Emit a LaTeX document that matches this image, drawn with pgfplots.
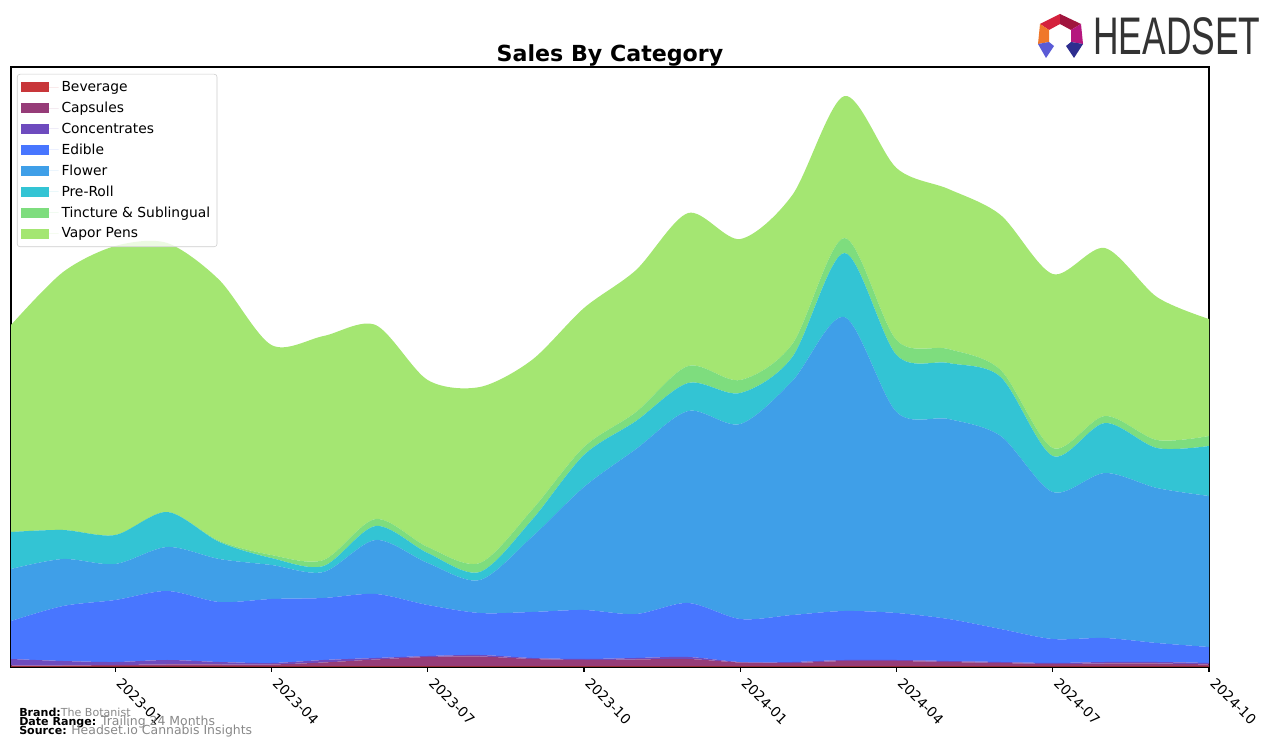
\documentclass[border=0pt]{standalone}
\usepackage{pgfplots}
\pgfplotsset{compat=1.18}
\usepackage{pgfplotstable}
\usepackage{fontspec}
\usepackage{graphicx}
\setmainfont{DejaVu Sans}
\newfontfamily\logofont{Liberation Sans}

\definecolor{cBev}{RGB}{200,54,58}
\definecolor{cCap}{RGB}{150,60,120}
\definecolor{cConc}{RGB}{110,75,190}
\definecolor{cEdi}{RGB}{72,118,255}
\definecolor{cFlo}{RGB}{63,159,232}
\definecolor{cPre}{RGB}{51,196,212}
\definecolor{cTin}{RGB}{126,221,126}
\definecolor{cVap}{RGB}{164,230,114}
\definecolor{footgray}{RGB}{136,136,136}
\definecolor{legframe}{RGB}{204,204,204}
\definecolor{logoA}{RGB}{212,33,61}
\definecolor{logoB}{RGB}{160,21,62}
\definecolor{logoC}{RGB}{181,23,126}
\definecolor{logoD}{RGB}{240,119,42}
\definecolor{logoE}{RGB}{91,91,214}
\definecolor{logoF}{RGB}{46,46,143}
\definecolor{logoText}{RGB}{51,51,51}

% monthly sales, 2022-11 .. 2024-10 (index 0..23)
\pgfplotstableread{
x  bev cap  conc edible flower preroll tinc vape
0  0.5 1.0  6.5  38  52  37  0  207
1  0.5 1.0  4.5  55  47  29  0  258
2  0.5 1.5  3.0  62  36  29  0  289
3  0.5 2.0  4.5  69  44  35  0  269
4  0.5 2.0  2.5  60  43  17  1  261
5  0.5 2.0  1.5  64  34  7   3  210
6  0.5 4.0  2.5  62  26  6   6  224
7  0.5 7.0  1.5  64  54  14  7  194
8  0.5 9.5  1.0  51  42  10  6  167
9  0.5 10.0 1.5  42  33  8   9  176
10 0.5 7.5  1.0  46  75  17  10 150
11 0.5 6.5  1.0  49  123 32  8  139
12 0.5 7.0  1.5  44  165 28  9  142
13 0.5 7.5  2.0  54  192 28  17 153
14 0.5 4.0  0.5  43  195 31  13 141
15 0.5 3.5  1.0  47  234 24  13 149
16 0.5 5.5  1.0  49  294 64  15 142
17 0.5 5.5  1.0  47  201 57  15 172
18 0.5 4.5  1.0  42  200 56  14 160
19 0.5 3.5  1.0  33  193 59  7  155
20 0.5 2.5  1.0  24  147 36  8  174
21 0.5 3.0  1.5  24  165 50  7  168
22 0.5 3.0  1.5  19  155 40  8  143
23 0.5 2.0  1.5  16  151 50  10 117
}\sales

\begin{document}
\begin{tikzpicture}[x=0.7227pt,y=0.7227pt]
\useasboundingbox (0,0) rectangle (1276,748);

\begin{axis}[
    at={(7.95pt,58.54pt)}, anchor=south west,
    width=865.8pt, height=433.6pt, scale only axis,
    xmin=0, xmax=23, ymin=0, ymax=600,
    stack plots=y,
    xtick={2,5,8,11,14,17,20,23},
    xticklabels={2023-01,2023-04,2023-07,2023-10,2024-01,2024-04,2024-07,2024-10},
    ytick=\empty,
    tick pos=bottom, xtick align=outside,
    major tick length=3.6pt,
    tick style={black, line width=0.8pt},
    axis line style={line width=0.8pt},
    xticklabel style={xshift=5.5pt, yshift=-2pt, rotate=-45, anchor=north west,
        font=\fontsize{10}{12}\selectfont, inner sep=1pt},
    legend cell align=left,
    legend image code/.code={\fill[#1, sharp corners, fill opacity=1] (0pt,-3.6pt) rectangle (20pt,3.6pt); \path (0pt,0pt) -- (27pt,0pt);},
    legend style={at={(0,1)}, anchor=north west, xshift=4.3pt, yshift=-5pt,
        draw=legframe, rounded corners=2pt, fill=white, fill opacity=0.8, draw opacity=1, text opacity=1,
        font=\fontsize{10}{12}\selectfont, row sep=2.1pt, inner xsep=3pt, inner ysep=3pt},
    every axis plot/.append style={draw=none, smooth, tension=0.5},
]
\addplot[fill=cBev]  table[x=x,y=bev]     {\sales} \closedcycle;
\addplot[fill=cCap]  table[x=x,y=cap]     {\sales} \closedcycle;
\addplot[fill=cConc] table[x=x,y=conc]    {\sales} \closedcycle;
\addplot[fill=cEdi]  table[x=x,y=edible]  {\sales} \closedcycle;
\addplot[fill=cFlo]  table[x=x,y=flower]  {\sales} \closedcycle;
\addplot[fill=cPre]  table[x=x,y=preroll] {\sales} \closedcycle;
\addplot[fill=cTin]  table[x=x,y=tinc]    {\sales} \closedcycle;
\addplot[fill=cVap]  table[x=x,y=vape]    {\sales} \closedcycle;
\legend{Beverage, Capsules, Concentrates, Edible, Flower, Pre-Roll, Tincture \& Sublingual, Vapor Pens}
\end{axis}

\node[font=\fontsize{16}{19}\selectfont\bfseries] at (610,693) {Sales By Category};

% footer
\node[anchor=base west, inner sep=0pt, font=\fontsize{8}{9}\selectfont] at (19,31)
    {\textbf{Brand:}\textcolor{footgray}{The Botanist}};
\node[anchor=base west, inner sep=0pt, font=\fontsize{8}{9}\selectfont] at (19,22)
    {\textbf{Date Range:} \textcolor{footgray}{\fontsize{9}{10}\selectfont Trailing 24 Months}};
\node[anchor=base west, inner sep=0pt, font=\fontsize{8}{9}\selectfont] at (19,13)
    {\textbf{Source:} \textcolor{footgray}{\fontsize{9}{10}\selectfont Headset.io Cannabis Insights}};

% logo
\fill[logoA] (1040,724) -- (1060,734) -- (1060,724) -- (1049,718) -- cycle;
\fill[logoB] (1060,734) -- (1081,724) -- (1071,718) -- (1060,724) -- cycle;
\fill[logoC] (1081,724) -- (1083,704) -- (1071,706) -- (1071,718) -- cycle;
\fill[logoD] (1040,724) -- (1049,718) -- (1049,706) -- (1038,704) -- cycle;
\fill[logoE] (1038,704) -- (1049,706) -- (1054,702) -- (1046,690) -- cycle;
\fill[logoF] (1083,704) -- (1071,706) -- (1066,702) -- (1074,690) -- cycle;
\node[anchor=south west, inner sep=0pt, text=logoText] at (1093,693)
    {\resizebox{120.7pt}{26.7pt}{\logofont HEADSET}};
\end{tikzpicture}
\end{document}
